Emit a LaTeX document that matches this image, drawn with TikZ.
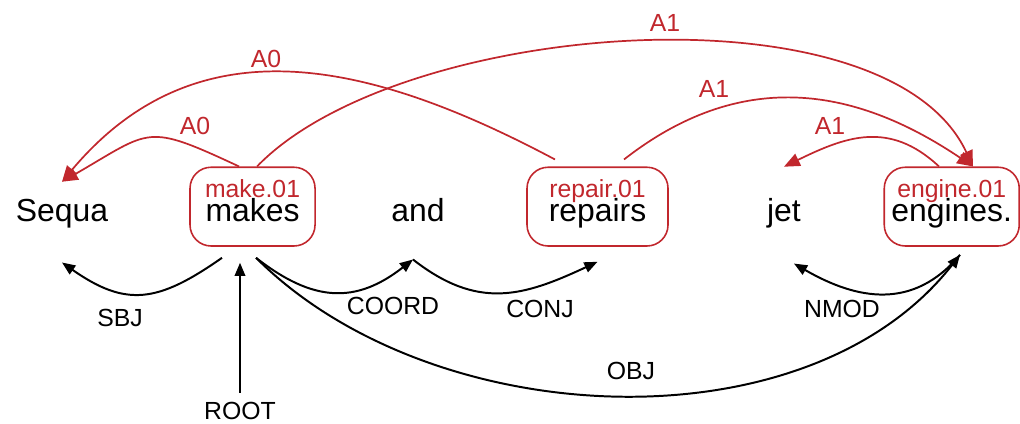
\documentclass[tikz,border=0pt]{standalone}
\usepackage{fontspec}
\setmainfont{Liberation Sans}
\usepackage{xcolor}
\definecolor{srlred}{HTML}{C1272D}
\usepackage{tikz}
\usetikzlibrary{arrows.meta, positioning}

\newcommand{\wordfont}{\fontsize{12.1}{14}\selectfont}
\newcommand{\tagfont}{\fontsize{9.4}{11}\selectfont}

\begin{document}
\begin{tikzpicture}[
  word/.style={font=\wordfont, inner sep=0pt, text height=0.73cm, text depth=0.32cm, anchor=base},
  pred/.style={word, draw=srlred, line width=0.6pt, rounded corners=8pt},
  sense/.style={font=\tagfont, text=srlred, inner sep=0pt, anchor=base},
  deplabel/.style={font=\tagfont},
  srllabel/.style={font=\tagfont, text=srlred},
  dep/.style={-{Triangle[length=5pt,width=4pt]}, line width=0.75pt},
  srl/.style={-{Triangle[length=6pt,width=5pt]}, line width=0.65pt, draw=srlred}
]
\useasboundingbox (0,0) rectangle (13.6,5.653);

% words
\node[word] (sequa) at (0.827,2.693) {Sequa};
\node[pred, minimum width=1.667cm] (makes) at (3.367,2.693) {makes};
\node[word] (and) at (5.573,2.693) {and};
\node[pred, minimum width=1.88cm] (repairs) at (7.967,2.693) {repairs};
\node[word] (jet) at (10.453,2.693) {jet};
\node[pred, minimum width=1.8cm] (engines) at (12.69,2.693) {engines.};

% senses
\node[sense] (makesense) at ([yshift=0.333cm]makes.base) {make.01};
\node[sense] (repairsense) at ([yshift=0.333cm]repairs.base) {repair.01};
\node[sense] (enginesense) at ([yshift=0.333cm]engines.base) {engine.01};

% syntactic dependencies
\node[deplabel] (sbj) at (1.6,1.407) {SBJ};
\node[deplabel] (root) at (3.2,0.173) {ROOT};
\node[deplabel] (coord) at (5.24,1.573) {COORD};
\node[deplabel] (conj) at (7.2,1.533) {CONJ};
\node[deplabel] (nmod) at (11.227,1.533) {NMOD};
\node[deplabel] (obj) at (8.413,0.707) {OBJ};

\draw[dep] ([xshift=-0.407cm,yshift=-0.147cm]makes.south)
  to[out=-145, in=-35, looseness=1.25] ([yshift=-0.213cm]sequa.south);
\draw[dep] (root) -- ([xshift=-0.167cm,yshift=-0.213cm]makes.south);
\draw[dep] ([xshift=0.047cm,yshift=-0.147cm]makes.south)
  to[out=-38, in=-142, looseness=1.18] ([xshift=-0.067cm,yshift=-0.173cm]and.south);
\draw[dep] ([xshift=-0.067cm,yshift=-0.173cm]and.south)
  to[out=-38, in=-155, looseness=1.14] ([yshift=-0.2cm]repairs.south);
\draw[dep] ([xshift=0.047cm,yshift=-0.147cm]makes.south)
  to[out=-45, in=-128, looseness=0.9] ([xshift=0.11cm,yshift=-0.107cm]engines.south);
\draw[dep] ([xshift=0.11cm,yshift=-0.107cm]engines.south)
  to[out=-130, in=-30, looseness=1.12] ([xshift=0.133cm,yshift=-0.227cm]jet.south);

% semantic roles
\node[srllabel] (makearg) at (2.6,3.973) {A0};
\node[srllabel] (repairarg) at (3.547,4.867) {A0};
\node[srllabel] (makeobj) at (8.867,5.347) {A1};
\node[srllabel] (repairobj) at (9.52,4.467) {A1};
\node[srllabel] (enginearg) at (11.067,3.973) {A1};

\draw[srl] ([xshift=-0.18cm]makes.north)
  to[out=155, in=30, looseness=1.5] ([yshift=-0.2cm]sequa.north);
\draw[srl] ([xshift=-0.567cm,yshift=0.093cm]repairs.north)
  to[out=152, in=50, looseness=1.09] ([yshift=-0.2cm]sequa.north);
\draw[srl] ([xshift=0.06cm]makes.north)
  to[out=46, in=115, looseness=0.73] ([xshift=0.283cm]engines.north);
\draw[srl] ([xshift=0.353cm,yshift=0.093cm]repairs.north)
  to[out=38, in=146, looseness=1.07] ([xshift=0.283cm]engines.north);
\draw[srl] ([xshift=-0.17cm]engines.north)
  to[out=137, in=26, looseness=1.13] (jet.north);
\end{tikzpicture}
\end{document}
